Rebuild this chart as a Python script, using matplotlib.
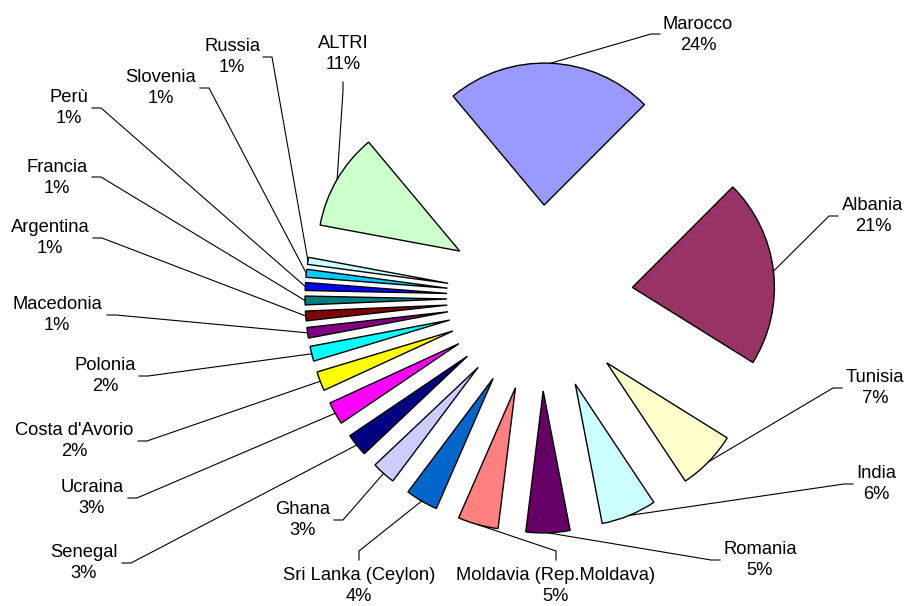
import numpy as np
import matplotlib
matplotlib.use("Agg")
import matplotlib.pyplot as plt

plt.rcParams['font.family'] = ['Liberation Sans', 'DejaVu Sans']

W, H = 907, 606

countries = ["Marocco", "Albania", "Tunisia", "India", "Romania",
             "Moldavia (Rep.Moldava)", "Sri Lanka (Ceylon)", "Ghana", "Senegal",
             "Ucraina", "Costa d'Avorio", "Polonia", "Macedonia", "Argentina",
             "Francia", "Perù", "Slovenia", "Russia", "ALTRI"]
values = [23.6, 21.4, 6.8, 6.3, 5.0, 4.6, 3.7, 2.7, 2.6, 2.6, 2.2, 1.7,
          1.2, 1.1, 1.0, 0.9, 0.9, 0.8, 11.0]
colors = ["#9999FF", "#993366", "#FFFFCC", "#CCFFFF", "#660066", "#FF8080",
          "#0066CC", "#CCCCFF", "#000080", "#FF00FF", "#FFFF00", "#00FFFF",
          "#800080", "#800000", "#008080", "#0000FF", "#00CCFF", "#CCFFFF",
          "#CCFFCC"]

# label layout (pixels from top-left): text centre, end of leader, stub direction
text_pos = [(698, 35), (873, 216), (875, 388), (876, 484), (760, 560),
            (556, 586), (359, 586), (303, 520), (84, 563), (92, 498),
            (74, 441), (105, 376), (57, 315), (50, 238), (57, 178),
            (69, 108), (161, 88), (232, 57), (343, 54)]
line_end = [(660, 34), (838, 216), (842, 388), (853, 484), (720, 560),
            (556, 560), (359, 560), (334, 520), (122, 563), (128, 498),
            (138, 441), (139, 376), (107, 315), (93, 238), (92, 177),
            (92, 108), (200, 88), (263, 57), (343, 82)]
stub = ["l", "l", "l", "l", "l", "u", "u", "r", "r", "r",
        "r", "r", "r", "r", "r", "r", "r", "r", "d"]

fig = plt.figure(figsize=(W / 100, H / 100), dpi=100)
ax = fig.add_axes([0, 0, 1, 1])

R = 142
wedges, _ = ax.pie(values, colors=colors, explode=[93] * len(values),
                   radius=R, center=(540, H - 298), startangle=129.9,
                   counterclock=False,
                   wedgeprops=dict(edgecolor="black", linewidth=1.0))

total = sum(values)
for i, w in enumerate(wedges):
    # leader line from the middle of the outer arc to the label
    ang = np.deg2rad((w.theta1 + w.theta2) / 2)
    cx, cy = w.center
    px, py = cx + R * np.cos(ang), cy + R * np.sin(ang)
    ex, ey = line_end[i][0], H - line_end[i][1]
    dx, dy = {"l": (-9, 0), "r": (9, 0), "u": (0, 9), "d": (0, -9)}[stub[i]]
    ax.plot([px, ex + dx, ex], [py, ey + dy, ey], color="black", lw=0.8,
            zorder=1)
    pct = int(round(values[i] / total * 100))
    ax.text(text_pos[i][0], H - text_pos[i][1], "%s\n%d%%" % (countries[i], pct),
            ha="center", va="center", multialignment="center",
            fontsize=13.2, linespacing=1.3)

ax.set_xlim(0, W)
ax.set_ylim(0, H)
ax.axis("off")

fig.savefig("out.png", dpi=100)
